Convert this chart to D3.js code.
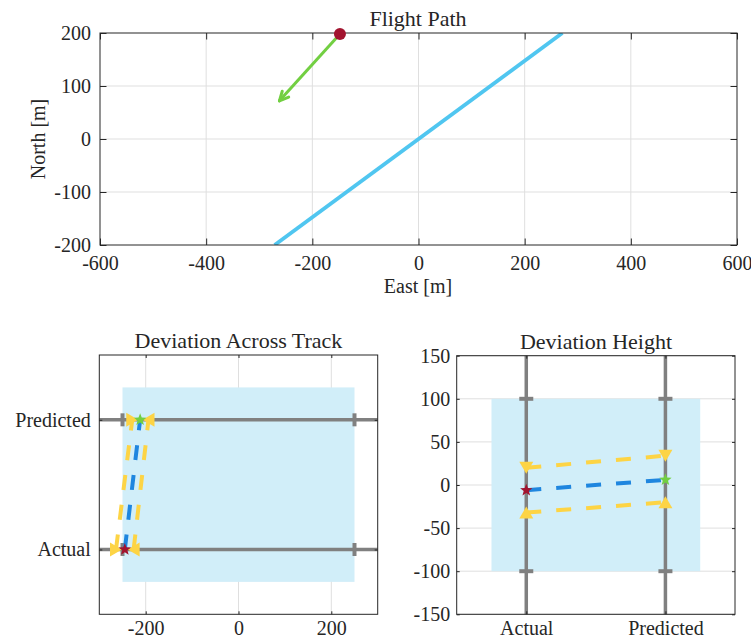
<!DOCTYPE html>
<html>
<head>
<meta charset="utf-8">
<script src="https://cdn.jsdelivr.net/npm/d3@7"></script>
<style>
    body { margin: 0; background: #fff; }
    svg text { font-family: "Liberation Serif", "Times New Roman", serif; fill: #262626; }
    .tick text { font-size: 20px; }
    .title { font-size: 22px; }
    .label { font-size: 20px; }
</style>
</head>
<body>
<svg id="chart" width="751" height="640"></svg>
<script>
// flight path
var eastTicks = [-600, -400, -200, 0, 200, 400, 600],
    northTicks = [-200, -100, 0, 100, 200],
    trackEast = [-271, 271],
    trackNorth = [-200, 200],
    aircraft = [-148, 198],
    headingTip = [-262, 72];

// deviation panels
var stages = ["Actual", "Predicted"],
    bandPad = 0.25,
    acrossTicks = [-200, 0, 200],
    acrossLimit = [-250, 250],
    acrossMid = [-245, -212],
    acrossLow = [-264, -229],
    acrossHigh = [-226, -194],
    heightTicks = [-150, -100, -50, 0, 50, 100, 150],
    heightLimit = [-100, 100],
    heightMid = [-6, 6],
    heightLow = [-32, -20],
    heightHigh = [20, 34];

var axisColor = "#262626",
    gridColor = "#dfdfdf",
    bandColor = "#d1eef9",
    barColor = "#808080",
    midColor = "#1f86df",
    boundColor = "#fdd445",
    redColor = "#a2142f",
    greenColor = "#72cf42",
    pathColor = "#50c6f0",
    serif = '"Liberation Serif", "Times New Roman", serif';

var svg = d3.select("#chart");

// pentagram centred on 0,0
function starPath(r) {
    var pts = [];
    for (var i = 0; i < 10; i++) {
        var rr = i % 2 ? r * 0.42 : r,
            a = -Math.PI / 2 + i * Math.PI / 5;
        pts.push([rr * Math.cos(a), rr * Math.sin(a)]);
    }
    return "M" + pts.join("L") + "Z";
}

// triangle pointing in dir (up, down, left, right)
function triPath(dir) {
    var a = 7, b = 6;
    if (dir == "down") return "M" + [-a, -b] + "L" + [a, -b] + "L" + [0, b] + "Z";
    if (dir == "up") return "M" + [-a, b] + "L" + [a, b] + "L" + [0, -b] + "Z";
    if (dir == "right") return "M" + [-b, -a] + "L" + [-b, a] + "L" + [b, 0] + "Z";
    return "M" + [b, -a] + "L" + [b, a] + "L" + [-b, 0] + "Z";
}

// box with inward ticks on all four sides
function box(g, x, y, xt, yt, tick, padX, padY, xFmt, yFmt) {
    var x0 = x.range()[0], x1 = x.range()[1],
        y0 = y.range()[0], y1 = y.range()[1];

    g.append("g")
        .attr("transform", "translate(0," + y0 + ")")
        .call(d3.axisBottom(x).tickValues(xt).tickSizeInner(-tick).tickSizeOuter(0)
            .tickPadding(padX).tickFormat(xFmt))
        .call(function (a) { a.select(".domain").remove(); });
    g.append("g")
        .attr("transform", "translate(0," + y1 + ")")
        .call(d3.axisTop(x).tickValues(xt).tickSizeInner(-tick).tickSizeOuter(0).tickFormat(""))
        .call(function (a) { a.select(".domain").remove(); });
    g.append("g")
        .attr("transform", "translate(" + x0 + ",0)")
        .call(d3.axisLeft(y).tickValues(yt).tickSizeInner(-tick).tickSizeOuter(0)
            .tickPadding(padY).tickFormat(yFmt))
        .call(function (a) { a.select(".domain").remove(); });
    g.append("g")
        .attr("transform", "translate(" + x1 + ",0)")
        .call(d3.axisRight(y).tickValues(yt).tickSizeInner(-tick).tickSizeOuter(0).tickFormat(""))
        .call(function (a) { a.select(".domain").remove(); });

    g.selectAll(".tick line").attr("stroke", axisColor);
    g.selectAll(".tick text")
        .attr("font-family", serif)
        .attr("font-size", 20)
        .attr("fill", axisColor);

    g.append("rect")
        .attr("x", x0).attr("y", y1)
        .attr("width", x1 - x0).attr("height", y0 - y1)
        .attr("fill", "none")
        .attr("stroke", axisColor)
        .attr("stroke-width", 1);
}

function num(d) { return String(d); }

// ---------- Flight Path ----------
var fx = d3.scaleLinear().domain([-600, 600]).range([100, 737]),
    fy = d3.scaleLinear().domain([-200, 200]).range([245, 33]);

var flight = svg.append("g");

flight.append("clipPath").attr("id", "clipTop")
    .append("rect").attr("x", 100).attr("y", 33).attr("width", 637).attr("height", 212);

flight.append("g").selectAll("line").data(eastTicks.slice(1, -1)).join("line")
    .attr("x1", fx).attr("x2", fx).attr("y1", 33).attr("y2", 245)
    .attr("stroke", gridColor);
flight.append("g").selectAll("line").data(northTicks.slice(1, -1)).join("line")
    .attr("y1", fy).attr("y2", fy).attr("x1", 100).attr("x2", 737)
    .attr("stroke", gridColor);

flight.append("line")
    .attr("clip-path", "url(#clipTop)")
    .attr("x1", fx(trackEast[0])).attr("y1", fy(trackNorth[0]))
    .attr("x2", fx(trackEast[1])).attr("y2", fy(trackNorth[1]))
    .attr("stroke", pathColor)
    .attr("stroke-width", 3.8);

// heading arrow
var ax0 = fx(aircraft[0]), ay0 = fy(aircraft[1]),
    ax1 = fx(headingTip[0]), ay1 = fy(headingTip[1]),
    ang = Math.atan2(ay1 - ay0, ax1 - ax0);
flight.append("line")
    .attr("x1", ax0).attr("y1", ay0).attr("x2", ax1).attr("y2", ay1)
    .attr("stroke", greenColor).attr("stroke-width", 3);
[-0.45, 0.45].forEach(function (da) {
    flight.append("line")
        .attr("x1", ax1).attr("y1", ay1)
        .attr("x2", ax1 - 10 * Math.cos(ang + da))
        .attr("y2", ay1 - 10 * Math.sin(ang + da))
        .attr("stroke", greenColor).attr("stroke-width", 3)
        .attr("stroke-linecap", "round");
});

box(flight, fx, fy, eastTicks, northTicks, 6.5, 10.5, 9, num, num);

flight.append("circle")
    .attr("cx", ax0).attr("cy", ay0).attr("r", 6)
    .attr("fill", redColor);

flight.append("text").attr("class", "title")
    .attr("x", 418).attr("y", 26).attr("text-anchor", "middle")
    .text("Flight Path");
flight.append("text").attr("class", "label")
    .attr("x", 418).attr("y", 293).attr("text-anchor", "middle")
    .text("East [m]");
flight.append("text").attr("class", "label")
    .attr("transform", "translate(45,139) rotate(-90)")
    .attr("text-anchor", "middle")
    .text("North [m]");

// ---------- Deviation Across Track ----------
var tx = d3.scaleLinear().domain([-300, 300]).range([99.3, 377.7]),
    ty = d3.scalePoint().domain(stages).range([614.3, 355]).padding(0.5),
    tStep = ty.step();

var across = svg.append("g");

across.append("g").selectAll("line").data(acrossTicks).join("line")
    .attr("x1", tx).attr("x2", tx).attr("y1", 355).attr("y2", 614.3)
    .attr("stroke", gridColor);

across.append("rect")
    .attr("x", tx(acrossLimit[0]))
    .attr("width", tx(acrossLimit[1]) - tx(acrossLimit[0]))
    .attr("y", ty(stages[1]) - bandPad * tStep)
    .attr("height", ty(stages[0]) - ty(stages[1]) + 2 * bandPad * tStep)
    .attr("fill", bandColor);

stages.forEach(function (s) {
    across.append("line")
        .attr("x1", tx.range()[0]).attr("x2", tx.range()[1])
        .attr("y1", ty(s)).attr("y2", ty(s))
        .attr("stroke", barColor).attr("stroke-width", 3.5);
    acrossLimit.forEach(function (v) {
        across.append("line")
            .attr("x1", tx(v)).attr("x2", tx(v))
            .attr("y1", ty(s) - 6.5).attr("y2", ty(s) + 6.5)
            .attr("stroke", barColor).attr("stroke-width", 4);
    });
});

var tLine = d3.line()
    .x(function (d) { return tx(d[0]); })
    .y(function (d) { return ty(d[1]); });

[[acrossLow, boundColor], [acrossHigh, boundColor], [acrossMid, midColor]].forEach(function (p) {
    across.append("path")
        .attr("d", tLine(p[0].map(function (v, i) { return [v, stages[i]]; })))
        .attr("fill", "none")
        .attr("stroke", p[1]).attr("stroke-width", 4)
        .attr("stroke-dasharray", "15,15");
});

stages.forEach(function (s, i) {
    across.append("path").attr("d", triPath("right"))
        .attr("transform", "translate(" + tx(acrossLow[i]) + "," + ty(s) + ")")
        .attr("fill", boundColor);
    across.append("path").attr("d", triPath("left"))
        .attr("transform", "translate(" + tx(acrossHigh[i]) + "," + ty(s) + ")")
        .attr("fill", boundColor);
    across.append("path").attr("d", starPath(6.5))
        .attr("transform", "translate(" + tx(acrossMid[i]) + "," + ty(s) + ")")
        .attr("fill", i ? greenColor : redColor);
});

box(across, tx, ty, acrossTicks, stages, 3, 6.5, 8.5, num, null);

across.append("text").attr("class", "title")
    .attr("x", 238.5).attr("y", 348).attr("text-anchor", "middle")
    .text("Deviation Across Track");

// ---------- Deviation Height ----------
var hx = d3.scalePoint().domain(stages).range([456.7, 735]).padding(0.5),
    hy = d3.scaleLinear().domain([-150, 150]).range([614.3, 355.7]),
    hStep = hx.step();

var height = svg.append("g");

height.append("g").selectAll("line").data(heightTicks).join("line")
    .attr("y1", hy).attr("y2", hy).attr("x1", 456.7).attr("x2", 735)
    .attr("stroke", gridColor);

height.append("rect")
    .attr("x", hx(stages[0]) - bandPad * hStep)
    .attr("width", hx(stages[1]) - hx(stages[0]) + 2 * bandPad * hStep)
    .attr("y", hy(heightLimit[1]))
    .attr("height", hy(heightLimit[0]) - hy(heightLimit[1]))
    .attr("fill", bandColor);

stages.forEach(function (s) {
    height.append("line")
        .attr("y1", hy.range()[0]).attr("y2", hy.range()[1])
        .attr("x1", hx(s)).attr("x2", hx(s))
        .attr("stroke", barColor).attr("stroke-width", 3.5);
    heightLimit.forEach(function (v) {
        height.append("line")
            .attr("y1", hy(v)).attr("y2", hy(v))
            .attr("x1", hx(s) - 7).attr("x2", hx(s) + 7)
            .attr("stroke", barColor).attr("stroke-width", 4);
    });
});

var hLine = d3.line()
    .x(function (d) { return hx(d[0]); })
    .y(function (d) { return hy(d[1]); });

[[heightLow, boundColor], [heightHigh, boundColor], [heightMid, midColor]].forEach(function (p) {
    height.append("path")
        .attr("d", hLine(p[0].map(function (v, i) { return [stages[i], v]; })))
        .attr("fill", "none")
        .attr("stroke", p[1]).attr("stroke-width", 4)
        .attr("stroke-dasharray", "15,15");
});

stages.forEach(function (s, i) {
    height.append("path").attr("d", triPath("up"))
        .attr("transform", "translate(" + hx(s) + "," + hy(heightLow[i]) + ")")
        .attr("fill", boundColor);
    height.append("path").attr("d", triPath("down"))
        .attr("transform", "translate(" + hx(s) + "," + hy(heightHigh[i]) + ")")
        .attr("fill", boundColor);
    height.append("path").attr("d", starPath(6.5))
        .attr("transform", "translate(" + hx(s) + "," + hy(heightMid[i]) + ")")
        .attr("fill", i ? greenColor : redColor);
});

box(height, hx, hy, stages, heightTicks, 3, 7, 6.5, null, num);

height.append("text").attr("class", "title")
    .attr("x", 596).attr("y", 348.5).attr("text-anchor", "middle")
    .text("Deviation Height");
</script>
</body>
</html>
